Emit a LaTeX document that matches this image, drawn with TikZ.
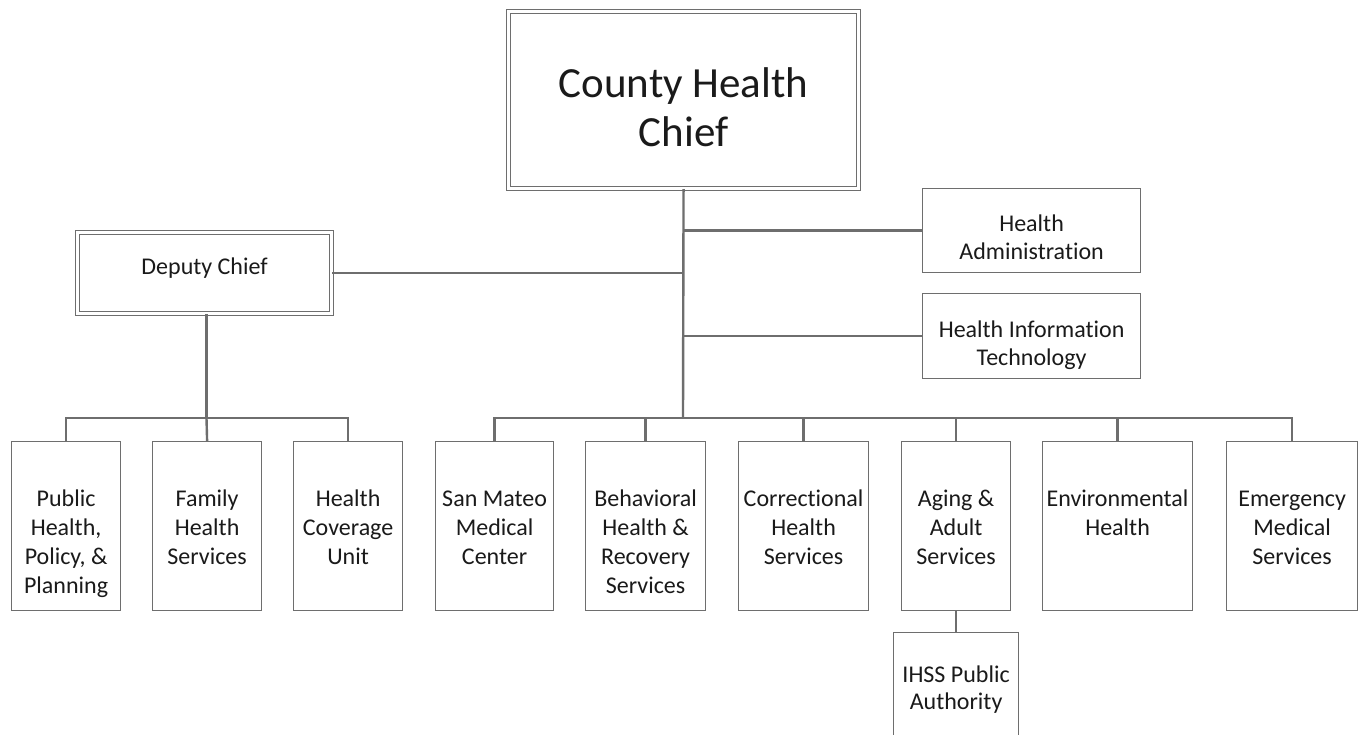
\documentclass[tikz,border=0pt]{standalone}
\usepackage{fontspec}
\setmainfont{Carlito}[Ligatures={NoCommon,NoRare,NoContextual}]
\definecolor{linegray}{HTML}{6E6E6E}
\definecolor{txtcol}{HTML}{1A1A1A}
\newcommand{\orgtext}[4]{\parbox[c][#2][t]{#1}{\centering\rule{0pt}{#3}#4}}
\tikzset{
  unitbox/.style={draw=linegray, line width=1.2pt, inner sep=0pt, anchor=north west,
    font=\fontsize{24}{29}\selectfont, text=txtcol},
  sidebox/.style={draw=linegray, line width=1.2pt, inner sep=0pt, anchor=north west,
    font=\fontsize{24}{28}\selectfont, text=txtcol},
  dblbox/.style={draw=linegray, double=white, double distance=2.2pt, line width=1.1pt,
    inner sep=0pt, anchor=north west, text=txtcol},
  conn/.style={draw=linegray, line width=2.4pt},
}
\begin{document}
\begin{tikzpicture}[x=1pt,y=-1pt]
\clip (0,0) rectangle (1361,735);
\fill[white] (0,0) rectangle (1361,735);
% top level
\node[dblbox, font=\fontsize{43}{49}\selectfont] (chief) at (508,11)
  {\orgtext{350pt}{177pt}{86pt}{County Health\\Chief}};
\node[dblbox, font=\fontsize{24}{29}\selectfont] (deputy) at (77,232)
  {\orgtext{254pt}{81pt}{42pt}{Deputy Chief}};
\node[sidebox] (ha) at (922,188) {\orgtext{218pt}{84pt}{43pt}{Health\\Administration}};
\node[sidebox] (hit) at (922,293) {\orgtext{218pt}{85pt}{44pt}{Health Information\\Technology}};
% left units
\node[unitbox] (pub) at (11,441) {\orgtext{109pt}{169pt}{65pt}{Public\\Health,\\Policy, \&\\Planning}};
\node[unitbox] (fam) at (152,441) {\orgtext{109pt}{169pt}{65pt}{Family\\Health\\Services}};
\node[unitbox] (cov) at (293,441) {\orgtext{109pt}{169pt}{65pt}{Health\\Coverage\\Unit}};
% right units
\node[unitbox] (smmc) at (435,441) {\orgtext{118pt}{169pt}{65pt}{San Mateo\\Medical\\Center}};
\node[unitbox] (bhrs) at (585,441) {\orgtext{120pt}{169pt}{65pt}{Behavioral\\Health \&\\Recovery\\Services}};
\node[unitbox] (chs) at (738,441) {\orgtext{130pt}{169pt}{65pt}{Correctional\\Health\\Services}};
\node[unitbox] (aas) at (901,441) {\orgtext{109pt}{169pt}{65pt}{Aging \&\\Adult\\Services}};
\node[unitbox] (env) at (1042,441) {\orgtext{150pt}{169pt}{65pt}{Environmental\\Health}};
\node[unitbox] (ems) at (1226,441) {\orgtext{131pt}{169pt}{65pt}{Emergency\\Medical\\Services}};
\node[unitbox, font=\fontsize{24}{27}\selectfont] (ihss) at (893,632) {\orgtext{125pt}{140pt}{50pt}{IHSS Public\\Authority}};
% connectors
\coordinate (rbus) at (683,418);
\coordinate (lbus) at (206.5,418);
\draw[conn] (chief.south) -- (rbus);
\draw[conn] (deputy.east) -- (deputy.east -| rbus);
\draw[conn] (ha.west) -- (ha.west -| rbus);
\draw[conn] (hit.west) -- (hit.west -| rbus);
\draw[conn] (smmc.north) |- (rbus) -| (ems.north);
\foreach \u in {bhrs,chs,aas,env} \draw[conn] (\u.north) -- (\u.north |- rbus);
\draw[conn] (aas.south) -- (ihss.north);
\draw[conn] (deputy.south -| lbus) -- (lbus);
\draw[conn] (pub.north) |- (lbus) -| (cov.north);
\draw[conn] (fam.north) -- (lbus);
\end{tikzpicture}
\end{document}
